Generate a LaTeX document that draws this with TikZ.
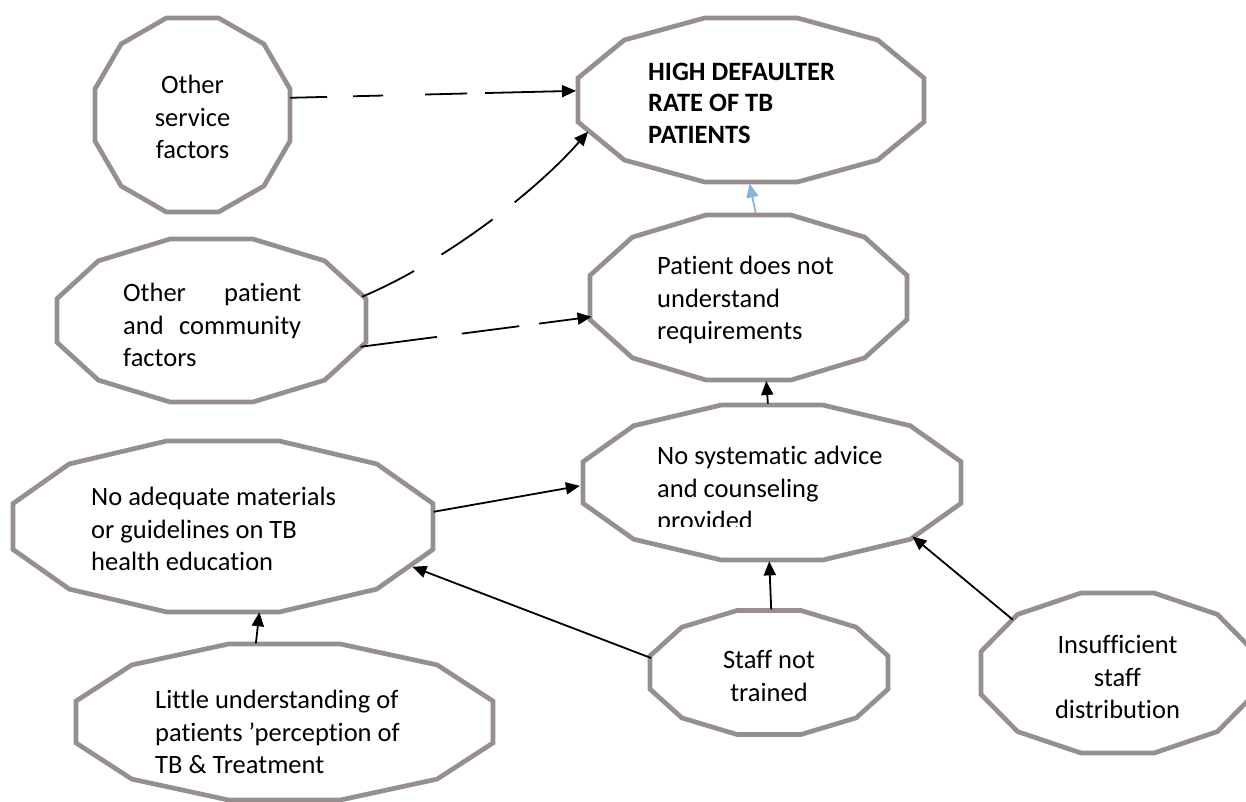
\documentclass[tikz,border=0pt]{standalone}
\usepackage{fontspec}
\setmainfont{Carlito}[Ligatures=NoCommon]
\usetikzlibrary{arrows.meta,shapes.geometric}

\definecolor{rimgray}{RGB}{151,142,142}
\definecolor{linkblue}{RGB}{140,179,215}

\tikzset{
  hub/.style={ellipse, draw=none, inner sep=0pt, outer sep=0pt},
  rim/.style={draw=rimgray, line width=4.7pt, fill=white},
  txt/.style={font=\fontsize{26.5}{32.3}\selectfont, inner sep=0pt, align=left},
  link/.style={draw=black, line width=1.8pt, -{Triangle[length=14pt,width=12pt]}},
  bluelink/.style={draw=linkblue, line width=1.8pt, -{Triangle[length=14pt,width=12pt]}},
}

% \dodec{name}{cx}{cy}{half width}{half height}: stretched twelve-sided box
% with flat top/bottom and flat sides; an inscribed ellipse node carries the name
\newcommand\dodec[5]{%
  \pgfmathsetmacro\dA{#4/0.9659}%
  \pgfmathsetmacro\dB{#5/0.9659}%
  \draw[rim] (#2,#3) +(15:{\dA} and {\dB})
    \foreach \t in {45,75,...,345}{ -- +(\t:{\dA} and {\dB})} -- cycle;
  \node[hub, minimum width={1.966*\dA*1pt}, minimum height={1.966*\dB*1pt}] (#1) at (#2,#3) {};
}

\begin{document}
\begin{tikzpicture}[x=1pt, y=-1pt]
\useasboundingbox (0,0) rectangle (1246,801);

% boxes
\dodec{os}{192.5}{115}{97.5}{97}
\dodec{hd}{751}{100}{173}{82}
\dodec{op}{211.5}{320.5}{154.5}{81.5}
\dodec{pt}{748.5}{297.5}{158.5}{82.5}
\dodec{ns}{772}{482.5}{189}{77.5}
\dodec{na}{223}{526.5}{210}{85.5}
\dodec{st}{769}{672.5}{119}{62}
\dodec{in}{1117.5}{673}{136.5}{80}
\dodec{lu}{284.5}{722}{208.5}{78}

% texts
\node[txt, align=center] (os-t) at (192.5,117) {Other\\service\\factors};
\node[txt, anchor=west, font=\fontsize{26.5}{31.5}\selectfont\bfseries] (hd-t) at (648,103)
  {HIGH DEFAULTER\\RATE OF TB\\PATIENTS};
\node[txt, anchor=west] (pt-t) at (657,300) {Patient does not\\understand\\requirements};
\node[txt, anchor=west, text width=178pt] (op-t) at (123,325)
  {Other\hfill patient\\and\hfill community\\factors};
\begin{scope}
  \clip (583,405) rectangle (961,526);
  \node[txt, anchor=west] (ns-t) at (657,490) {No systematic advice\\and counseling\\provided};
\end{scope}
\node[txt, anchor=west] (na-t) at (91,529) {No adequate materials\\or guidelines on TB\\health education};
\node[txt, align=center] (st-t) at (769,676) {Staff not\\trained};
\node[txt, align=center] (in-t) at (1117.5,677) {Insufficient\\staff\\distribution};
\node[txt, anchor=west] (lu-t) at (155,732) {Little understanding of\\patients ’perception of\\TB \& Treatment};

% connectors
\draw[link, dash pattern=on 37pt off 26pt on 30pt off 42pt on 42pt off 18pt on 400pt]
  (os.10) -- (hd.177);
\draw[link, dash pattern=on 58pt off 32pt on 62pt off 28pt on 400pt]
  (op.9) .. controls (432,268) and (528,200) .. (hd.191);
\draw[link, dash pattern=on 77pt off 25pt on 58pt off 20pt on 400pt]
  (op.350) -- (pt.187);
\draw[bluelink] (pt.85) -- (hd.269);
\draw[link] (ns.93) -- (pt.282);
\draw[link] (na.4) -- (ns.181);
\draw[link] (st.173) -- (na.348);
\draw[link] (st.88) -- (ns.268);
\draw[link] (in.153) -- (ns.339);
\draw[link] (lu.110) -- (na.293);
\end{tikzpicture}
\end{document}
